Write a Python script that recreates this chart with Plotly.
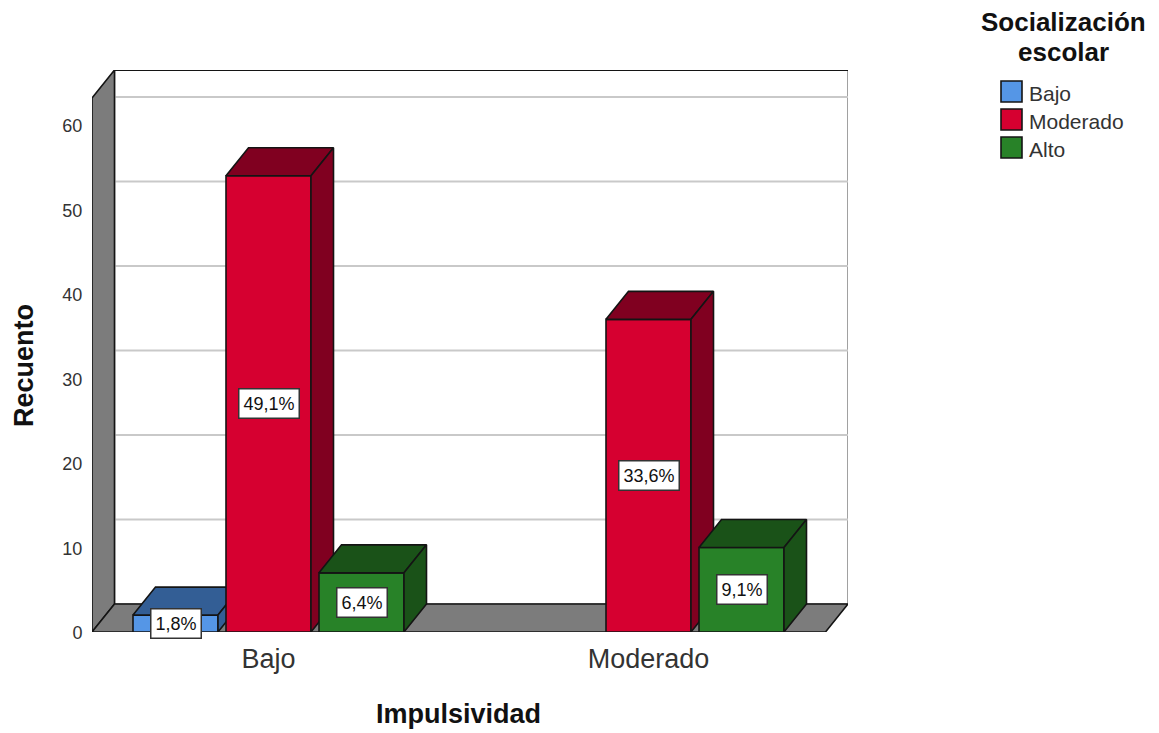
import plotly.graph_objects as go

# Counts per impulsivity level and school-socialization level
categories = ["Bajo", "Moderado"]
series_names = ["Bajo", "Moderado", "Alto"]
counts_bajo = [2, None]
counts_moderado = [54, 37]
counts_alto = [7, 10]
pct_bajo = ["1,8%", None]
pct_moderado = ["49,1%", "33,6%"]
pct_alto = ["6,4%", "9,1%"]
y_ticks = [0, 10, 20, 30, 40, 50, 60]

front_colors = ["#5596e6", "#d60030", "#288228"]
top_colors = ["#335e95", "#800020", "#1a5218"]
side_colors = ["#335e95", "#800020", "#1a5218"]
EDGE = "#141414"
WALL = "#7c7c7c"

# Layout of the plotting area and the fake 3D box, in pixels
W, H = 1159, 733
L, R, T, B = 92, 848, 70, 632
X0_PX, PX_PER_CAT = 268.5, 380.0
PX_PER_UNIT = 8.45
DEPTH_X_PX, DEPTH_Y_PX = 22.5, 28.0

x_min = (L - X0_PX) / PX_PER_CAT
x_max = (R - X0_PX) / PX_PER_CAT
y_max = (B - T) / PX_PER_UNIT
dx = DEPTH_X_PX / PX_PER_CAT
dy = DEPTH_Y_PX / PX_PER_UNIT
bar_w = 85 / PX_PER_CAT
slot = 93 / PX_PER_CAT


def px_x(p):
    return (p - L) / (R - L)


def px_y(p):
    return (B - p) / (B - T)


def poly(xs, ys, fill, line=EDGE, width=1.6, xa="x", ya="y"):
    return go.Scatter(
        x=xs + xs[:1], y=ys + ys[:1], mode="lines", fill="toself", fillcolor=fill,
        line=dict(color=line, width=width), hoverinfo="skip", showlegend=False,
        xaxis=xa, yaxis=ya, cliponaxis=False,
    )


def text_at(px, py, text, size, color="#111111", anchor="center", angle=0):
    return dict(
        x=px_x(px), y=px_y(py), xref="paper", yref="paper", text=text, textangle=angle,
        xanchor=anchor, yanchor="middle", showarrow=False,
        font=dict(family="Liberation Sans", size=size, color=color),
    )


fig = go.Figure()

# Back wall, side wall and floor on the base axes
fig.add_trace(poly([x_min + dx, x_max, x_max, x_min + dx], [dy, dy, y_max, y_max], "white", line="#8a8a8a"))
for v in y_ticks[1:]:
    fig.add_trace(go.Scatter(
        x=[x_min + dx, x_max], y=[v + dy, v + dy], mode="lines",
        line=dict(color="#c9c9c9", width=2), hoverinfo="skip", showlegend=False,
    ))
fig.add_trace(go.Scatter(
    x=[x_min + dx, x_max], y=[y_max, y_max], mode="lines",
    line=dict(color=EDGE, width=2), hoverinfo="skip", showlegend=False, cliponaxis=False,
))
fig.add_trace(poly([x_min, x_min + dx, x_min + dx, x_min],
                   [0, dy, y_max, y_max - dy], WALL))
fig.add_trace(poly([x_min, x_max - dx, x_max, x_min + dx], [0, 0, dy, dy], WALL))

# Each series lives on its own overlaid axes so later bars hide earlier side faces
all_counts = [counts_bajo, counts_moderado, counts_alto]
all_pcts = [pct_bajo, pct_moderado, pct_alto]
annotations = []
for i, (name, vals, pcts) in enumerate(zip(series_names, all_counts, all_pcts)):
    xa, ya = f"x{i + 2}", f"y{i + 2}"
    offset = (i - 1) * slot - bar_w / 2
    fig.add_trace(go.Bar(
        x=[0, 1], y=vals, name=name, width=bar_w, offset=offset, xaxis=xa, yaxis=ya,
        marker=dict(color=front_colors[i], line=dict(color=EDGE, width=1.6)),
        showlegend=False, hovertemplate="%{y}<extra></extra>",
    ))
    for c, (v, pct) in enumerate(zip(vals, pcts)):
        if v is None:
            continue
        a = c + offset
        b = a + bar_w
        fig.add_trace(poly([a, b, b + dx, a + dx], [v, v, v + dy, v + dy], top_colors[i], xa=xa, ya=ya))
        fig.add_trace(poly([b, b + dx, b + dx, b], [0, dy, v + dy, v], side_colors[i], xa=xa, ya=ya))
        annotations.append(dict(
            x=(a + b) / 2, y=v / 2, xref="x", yref="y", text=pct, showarrow=False,
            font=dict(family="Liberation Sans", size=18, color="#111111"),
            bgcolor="white", bordercolor="#333333", borderwidth=1.5, borderpad=4,
        ))

# Axis titles
annotations.append(text_at(458, 714, "<b>Impulsividad</b>", 27))
annotations.append(text_at(24, 366, "<b>Recuento</b>", 27, angle=-90))

# Legend block to the right of the plot
shapes = []
annotations.append(text_at(1063, 22.5, "<b>Socialización</b>", 26))
annotations.append(text_at(1063, 52.5, "<b>escolar</b>", 26))
for i, name in enumerate(series_names):
    top = 81 + i * 28
    shapes.append(dict(
        type="rect", xref="paper", yref="paper",
        x0=px_x(1001), x1=px_x(1022), y0=px_y(top), y1=px_y(top + 21),
        fillcolor=front_colors[i], line=dict(color=EDGE, width=1.6),
    ))
    annotations.append(text_at(1027, top + 12, name, 21, color="#333333", anchor="left"))

overlay_x = dict(range=[x_min, x_max], overlaying="x", visible=False, fixedrange=True)
overlay_y = dict(range=[0, y_max], overlaying="y", visible=False, fixedrange=True)

fig.update_layout(
    width=W, height=H, autosize=False,
    margin=dict(l=L, r=W - R, t=T, b=H - B),
    paper_bgcolor="white", plot_bgcolor="white",
    barmode="overlay", showlegend=False,
    xaxis=dict(
        range=[x_min, x_max], tickmode="array", tickvals=[0, 1], ticktext=categories,
        tickfont=dict(family="Liberation Sans", size=27, color="#333333"),
        showgrid=False, zeroline=False, showline=False,
        ticks="outside", ticklen=3, tickcolor="rgba(0,0,0,0)", fixedrange=True,
    ),
    yaxis=dict(
        range=[0, y_max], tickmode="array", tickvals=y_ticks,
        tickfont=dict(family="Liberation Sans", size=18, color="#333333"),
        showgrid=False, zeroline=False, showline=False, ticklabelshift=1,
        ticks="outside", ticklen=5, tickcolor="rgba(0,0,0,0)", fixedrange=True,
    ),
    xaxis2=overlay_x, yaxis2=overlay_y,
    xaxis3=overlay_x, yaxis3=overlay_y,
    xaxis4=overlay_x, yaxis4=overlay_y,
    annotations=annotations, shapes=shapes,
)

fig.write_html("out.html", config={"displayModeBar": False})
